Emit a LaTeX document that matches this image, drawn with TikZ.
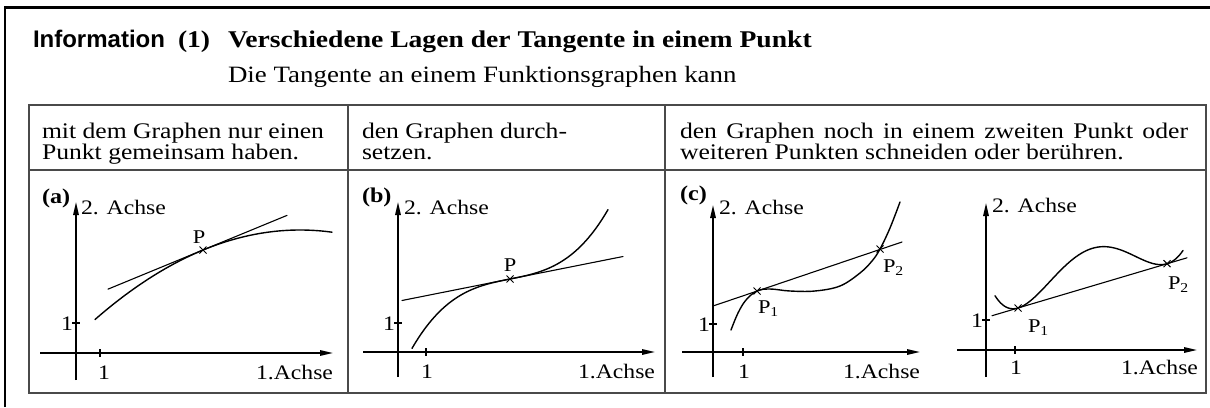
\documentclass[tikz,border=0pt]{standalone}
\usepackage{fontspec}
\setmainfont{Liberation Serif}[FakeStretch=1.15]
\newfontfamily\infofont{Liberation Sans}
\usetikzlibrary{arrows.meta,shapes.misc,calc}
\definecolor{rulegray}{HTML}{4A4A4A}
\tikzset{
  axisline/.style={line width=1.5pt,-{Triangle[length=13pt,width=5.5pt]}},
  graphline/.style={line width=1.4pt,line cap=round},
  tangline/.style={line width=1.1pt,line cap=round},
  tickline/.style={line width=1.1pt},
  txt/.style={inner sep=0pt,outer sep=0pt},
  axlbl/.style={txt,font=\fontsize{20.6}{20.6}\selectfont},
  plbl/.style={txt,font=\fontsize{19.5}{19.5}\selectfont},
  caselbl/.style={txt,font=\fontsize{21}{21}\selectfont\bfseries},
  headtxt/.style={txt,anchor=base west,font=\fontsize{22.3}{22}\selectfont},
  ptmark/.style={draw,cross out,line width=1pt,minimum size=6pt,inner sep=0pt},
  tablerule/.style={draw=rulegray,line width=1.3pt},
  framerule/.style={draw=black,line width=2.2pt}
}
\begin{document}
\begin{tikzpicture}[x=1pt,y=-1pt]
\useasboundingbox (0,0) rectangle (1210,407);
\fill[white] (0,0) rectangle (1210,407);
% outer frame
\draw[framerule] (5,407) -- (5,7.5) -- (1210,7.5);
% title
\node[txt,anchor=base west,font=\infofont\bfseries\fontsize{24}{24}\selectfont] (info) at (33,47) {Information};
\node[txt,anchor=base west,font=\fontsize{24}{24}\selectfont\bfseries] (num) at (178,47) {(1)};
\node[txt,anchor=base west,font=\fontsize{24}{24}\selectfont\bfseries] (title) at (228,47) {Verschiedene Lagen der Tangente in einem Punkt};
\node[txt,anchor=base west,font=\fontsize{23.4}{22}\selectfont] (sub) at (228,82) {Die Tangente an einem Funktionsgraphen kann};
% table
\draw[tablerule] (29,105) rectangle (1206,393);
\draw[tablerule] (29,170) -- (1206,170);
\draw[tablerule] (348,105) -- (348,393);
\draw[tablerule] (665,105) -- (665,393);
% header texts
\node[headtxt] (h1a) at (42,138) {mit dem Graphen nur einen};
\node[headtxt] (h1b) at (42,159) {Punkt gemeinsam haben.};
\node[headtxt] (h2a) at (362,138) {den Graphen durch-};
\node[headtxt] (h2b) at (362,159) {setzen.};
\node[headtxt] (h3a) at (680,138) {\makebox[508pt][s]{den Graphen noch in einem zweiten Punkt oder}};
\node[headtxt] (h3b) at (680,159) {weiteren Punkten schneiden oder berühren.};

% ---------- plot (a) ----------
\draw[axisline] (40,353) -- (333,353);
\draw[axisline] (76,380) -- (76,202);
\draw[tickline] (100,349) -- (100,357);
\draw[tickline] (72,323) -- (80,323);
\node[caselbl,anchor=base west] (la) at (42,203) {(a)};
\node[axlbl,anchor=base west] (ya) at (81,214) {2. Achse};
\node[axlbl,anchor=base east] (xa) at (333,379) {1.Achse};
\node[axlbl,anchor=base] (xa1) at (104,379) {1};
\node[axlbl,anchor=east] (ya1) at (73,324) {1};
\draw[graphline] plot[domain=95:332,samples=80] (\x,{230+21.3*((300-\x)/100)*((300-\x)/100)});
\draw[tangline] plot[domain=108:287,samples=2] (\x,{250-0.412*(\x-203)});
\coordinate (Pa) at (203,250);
\node[ptmark] at (Pa) {};
\node[plbl,anchor=base] (pa) at (199,243) {P};

% ---------- plot (b) ----------
\draw[axisline] (363,352) -- (655,352);
\draw[axisline] (398,377) -- (398,202);
\draw[tickline] (426,348) -- (426,356);
\draw[tickline] (394,323) -- (402,323);
\node[caselbl,anchor=base west] (lb) at (362,202) {(b)};
\node[axlbl,anchor=base west] (yb) at (404,214) {2. Achse};
\node[axlbl,anchor=base east] (xb) at (655,378) {1.Achse};
\node[axlbl,anchor=base] (xb1) at (427,378) {1};
\node[axlbl,anchor=east] (yb1) at (395,324) {1};
\draw[graphline] plot[domain=412:608,samples=80] (\x,{279-0.199*(\x-510)-53*((\x-510)/100)*((\x-510)/100)*((\x-510)/100)});
\draw[tangline] plot[domain=402:623,samples=2] (\x,{279-0.199*(\x-510)});
\coordinate (Pb) at (510,279);
\node[ptmark] at (Pb) {};
\node[plbl,anchor=base] (pb) at (510,271) {P};

% ---------- plot (c) ----------
\draw[axisline] (682,352) -- (920,352);
\draw[axisline] (713,377) -- (713,205);
\draw[tickline] (743,348) -- (743,356);
\draw[tickline] (709,324) -- (717,324);
\node[caselbl,anchor=base west] (lc) at (680,200) {(c)};
\node[axlbl,anchor=base west] (yc) at (719,214) {2. Achse};
\node[axlbl,anchor=base east] (xc) at (920,378) {1.Achse};
\node[axlbl,anchor=base] (xc1) at (744,378) {1};
\node[axlbl,anchor=east] (yc1) at (710,325) {1};
\draw[tangline] (713,306) -- (902,242);
\draw[graphline] plot[smooth,tension=0.6] coordinates {(731,330) (738,313) (746,300) (757,291) (770,289) (790,291) (815,291) (840,286) (860,273) (872,261) (880,249) (890,228) (900,202)};
\coordinate (P1c) at (757,291);
\coordinate (P2c) at (880,249);
\node[ptmark] at (P1c) {};
\node[ptmark] at (P2c) {};
\node[plbl,anchor=base west] (p1c) at (758,313) {P\textsubscript{1}};
\node[plbl,anchor=base west] (p2c) at (883,272) {P\textsubscript{2}};

% ---------- plot (d) ----------
\draw[axisline] (957,350) -- (1197,350);
\draw[axisline] (986,377) -- (986,203);
\draw[tickline] (1015,346) -- (1015,354);
\draw[tickline] (982,320) -- (990,320);
\node[axlbl,anchor=base west] (yd) at (992,212) {2. Achse};
\node[axlbl,anchor=base east] (xd) at (1198,374) {1.Achse};
\node[axlbl,anchor=base] (xd1) at (1016,374) {1};
\node[axlbl,anchor=east] (yd1) at (983,321) {1};
\draw[tangline] plot[domain=992:1187,samples=2] (\x,{308-0.297*(\x-1018)});
\draw[graphline] plot[domain=995:1183,samples=100] (\x,{308-0.297*(\x-1018)-122*((\x-1018)/100)*((\x-1018)/100)*((\x-1167)/100)*((\x-1167)/100)});
\coordinate (P1d) at (1018,308);
\coordinate (P2d) at (1167,263.7);
\node[ptmark] at (P1d) {};
\node[ptmark] at (P2d) {};
\node[plbl,anchor=base west] (p1d) at (1028,332) {P\textsubscript{1}};
\node[plbl,anchor=base west] (p2d) at (1168,289) {P\textsubscript{2}};
\end{tikzpicture}
\end{document}
